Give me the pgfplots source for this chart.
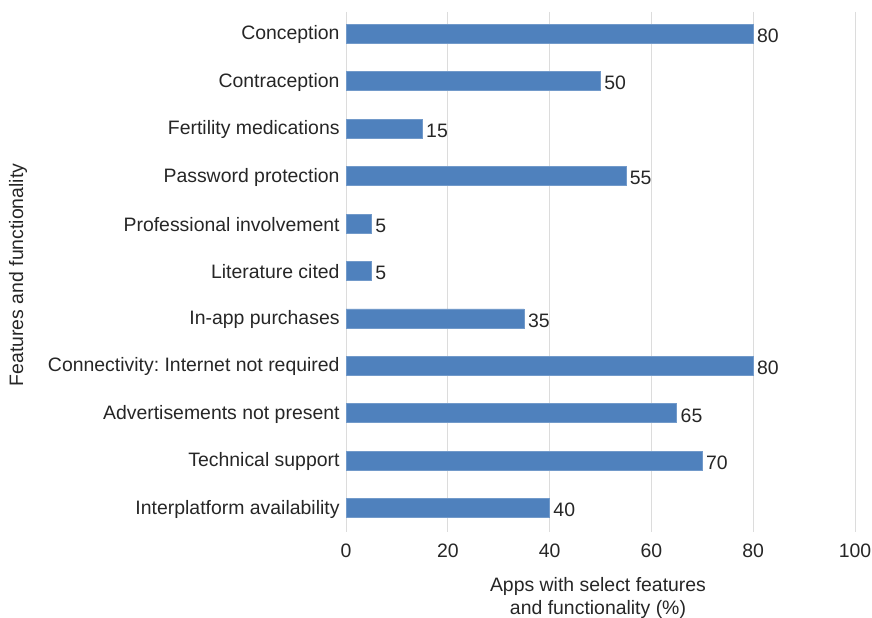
\documentclass[border=0pt]{standalone}
\usepackage{fontspec}
\setmainfont{Liberation Sans}
\usepackage{pgfplots}
\pgfplotsset{compat=1.18}
\definecolor{barblue}{HTML}{4F81BD}
\definecolor{gridgray}{HTML}{DCDCDC}
\newcommand{\fs}{\fontsize{19.5}{22.5}\selectfont}
\frenchspacing
\begin{document}
\fs
\begin{tikzpicture}[x=1bp,y=1bp]
\useasboundingbox (0,0) rectangle (872,618);
\begin{axis}[
  at={(346bp,86bp)}, anchor=south west,
  scale only axis, width=509bp, height=520bp,
  xbar, xmin=0, xmax=100, ymin=-0.46, ymax=10.5,
  y dir=reverse,
  ytick={0,...,10},
  yticklabels={Conception,Contraception,Fertility medications,Password protection,Professional involvement,Literature cited,In-app purchases,{Connectivity: Internet not required},Advertisements not present,Technical support,Interplatform availability},
  xtick={0,20,...,100},
  xmajorgrids, major grid style={gridgray, line width=1pt},
  axis line style={draw=none},
  tick style={draw=none},
  bar width=19bp,
  ticklabel style={font=\fs, text=black!85},
  xticklabel style={yshift=-5pt},
  yticklabel style={xshift=0pt, yshift=-1pt, inner sep=2pt},
  /pgf/number format/assume math mode=true,
  nodes near coords,
  nodes near coords style={anchor=west, xshift=-3pt, yshift=-2pt, font=\fs, text=black!85},
]
\addplot[fill=barblue, draw=barblue!80!white, line width=0.8pt] coordinates {
(80,0) (50,1) (15,2) (55,3) (5,4) (5,5) (35,6) (80,7) (65,8) (70,9) (40,10)};
\end{axis}
\node[rotate=90, text=black!85] at (18,343) {Features and functionality};
\node[align=center, text=black!85] at (598,20) {Apps with select features\\and functionality (\%)};
\end{tikzpicture}
\end{document}
